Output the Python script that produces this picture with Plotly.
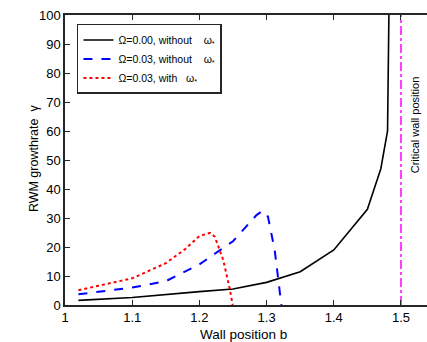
import plotly.graph_objects as go

# Data
b_black = [1.02, 1.1, 1.2, 1.25, 1.3, 1.35, 1.4, 1.45, 1.47, 1.48, 1.482, 1.484]
g_black = [1.6, 2.6, 4.6, 5.5, 7.8, 11.5, 19.0, 33.0, 47.0, 60.0, 100.0, 140.0]

b_blue = [1.02, 1.05, 1.1, 1.15, 1.2, 1.25, 1.285, 1.294, 1.302, 1.312, 1.318, 1.322]
g_blue = [3.7, 4.6, 6.0, 8.2, 14.0, 22.0, 31.0, 32.5, 30.5, 19.0, 8.0, 0.0]

b_red = [1.02, 1.05, 1.1, 1.15, 1.18, 1.2, 1.216, 1.223, 1.2355, 1.2455, 1.2495]
g_red = [5.1, 6.6, 9.2, 14.4, 19.5, 23.8, 24.9, 23.5, 15.5, 5.2, 0.0]

b_crit = [1.5, 1.5]
g_crit = [0, 100]

names = ["Ω=0.00, without\u00a0\u00a0\u00a0\u00a0ω<sub>*</sub>",
         "Ω=0.03, without\u00a0\u00a0\u00a0\u00a0ω<sub>*</sub>",
         "Ω=0.03, with\u00a0\u00a0\u00a0ω<sub>*</sub>"]

xticks = [1, 1.1, 1.2, 1.3, 1.4, 1.5]
yticks = list(range(0, 101, 10))

FONT = "Liberation Sans, Arial, Helvetica, sans-serif"

fig = go.Figure()
fig.add_trace(go.Scatter(x=b_black, y=g_black, mode="lines", name=names[0],
                         line=dict(color="black", width=1.6)))
fig.add_trace(go.Scatter(x=b_blue, y=g_blue, mode="lines", name=names[1],
                         line=dict(color="#0000ff", width=2, dash="dash")))
fig.add_trace(go.Scatter(x=b_red, y=g_red, mode="lines", name=names[2],
                         line=dict(color="#ff0000", width=2, dash="dot")))
fig.add_trace(go.Scatter(x=b_crit, y=g_crit, mode="lines", showlegend=False,
                         line=dict(color="#ff00ff", width=1.5, dash="dashdot")))

axis_color = "#262626"
fig.update_layout(
    width=427, height=342,
    margin=dict(l=65, r=0, t=15, b=37, autoexpand=False),
    paper_bgcolor="white", plot_bgcolor="white",
    font=dict(family=FONT, size=13, color="black"),
    xaxis=dict(range=[1, 1.5387], tickvals=xticks, ticktext=[str(v) for v in xticks],
               showgrid=False, zeroline=False, showline=True, linecolor=axis_color,
               linewidth=1.5, mirror="ticks", ticks="inside", ticklen=5, tickcolor=axis_color,
               tickfont=dict(size=13), automargin=False),
    yaxis=dict(range=[0, 100], tickvals=yticks, showgrid=False, zeroline=False,
               showline=True, linecolor=axis_color, linewidth=1.5, mirror=False,
               ticks="inside", ticklen=5, tickcolor=axis_color, tickfont=dict(size=13),
               automargin=False),
    legend=dict(x=0.033, y=0.969, xanchor="left", yanchor="top",
                bgcolor="white", bordercolor=axis_color, borderwidth=1.5,
                font=dict(size=10.5), tracegroupgap=0),
    showlegend=True,
)

fig.add_annotation(x=-0.11, y=0.483, xref="paper", yref="paper", text="RWM growthrate",
                   textangle=-90, showarrow=False, font=dict(size=12.5))
fig.add_annotation(x=-0.11, y=0.697, xref="paper", yref="paper", text="γ",
                   textangle=-90, showarrow=False, font=dict(size=12.5))
fig.add_annotation(x=0.492, y=-0.1, xref="paper", yref="paper", text="Wall position b",
                   showarrow=False, font=dict(size=13.5), yanchor="middle")
fig.add_annotation(x=1.521, y=62, xref="x", yref="y", text="Critical wall position",
                   textangle=-90, showarrow=False, font=dict(size=11))

fig.write_html("out.html", config={"displayModeBar": False},
               post_script="document.body.style.margin='0';document.body.style.overflow='hidden';")
